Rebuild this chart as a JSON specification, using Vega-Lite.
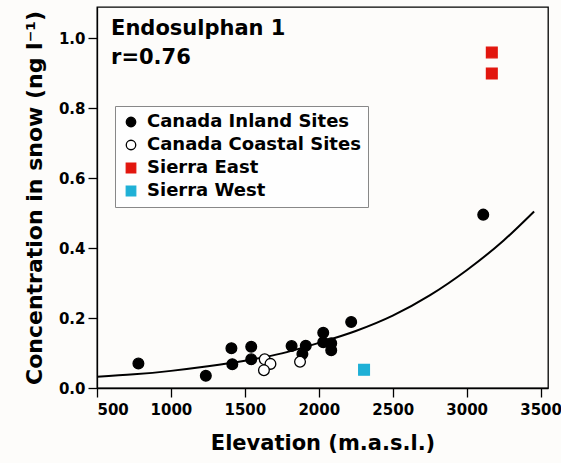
{
  "$schema": "https://vega.github.io/schema/vega-lite/v6.json",
  "width": 451,
  "height": 381,
  "autosize": {"type": "none"},
  "padding": {"left": 97, "top": 7, "right": 13, "bottom": 75},
  "background": "#fdfcfa",
  "config": {
    "view": {"stroke": "black", "strokeWidth": 1.3},
    "font": "DejaVu Sans",
    "axis": {
      "domainColor": "black", "tickColor": "black", "domainWidth": 1.3, "tickWidth": 1.3, "tickSize": 9,
      "labelFont": "DejaVu Sans", "labelFontWeight": "bold", "labelFontSize": 15, "labelColor": "black",
      "titleFont": "DejaVu Sans", "titleFontWeight": "bold", "titleFontSize": 21, "titleColor": "black",
      "grid": false
    },
    "legend": {
      "padding": 7,
      "strokeColor": "#888", "fillColor": "#fefefe",
      "labelFont": "DejaVu Sans", "labelFontWeight": "bold", "labelFontSize": 18, "labelColor": "black",
      "symbolSize": 90, "symbolStrokeWidth": 1.3, "rowPadding": 5, "labelOffset": 7, "labelLimit": 400
    }
  },
  "datasets": {
    "points": [
      {"series": "Canada Inland Sites", "elev": 780, "conc": 0.070},
      {"series": "Canada Inland Sites", "elev": 1236, "conc": 0.035},
      {"series": "Canada Inland Sites", "elev": 1409, "conc": 0.114},
      {"series": "Canada Inland Sites", "elev": 1415, "conc": 0.068},
      {"series": "Canada Inland Sites", "elev": 1543, "conc": 0.118},
      {"series": "Canada Inland Sites", "elev": 1543, "conc": 0.082},
      {"series": "Canada Inland Sites", "elev": 1816, "conc": 0.120},
      {"series": "Canada Inland Sites", "elev": 1889, "conc": 0.097},
      {"series": "Canada Inland Sites", "elev": 1912, "conc": 0.121},
      {"series": "Canada Inland Sites", "elev": 2030, "conc": 0.158},
      {"series": "Canada Inland Sites", "elev": 2030, "conc": 0.131},
      {"series": "Canada Inland Sites", "elev": 2084, "conc": 0.128},
      {"series": "Canada Inland Sites", "elev": 2084, "conc": 0.108},
      {"series": "Canada Inland Sites", "elev": 2219, "conc": 0.189},
      {"series": "Canada Inland Sites", "elev": 3112, "conc": 0.496},
      {"series": "Canada Coastal Sites", "elev": 1634, "conc": 0.082},
      {"series": "Canada Coastal Sites", "elev": 1673, "conc": 0.069},
      {"series": "Canada Coastal Sites", "elev": 1629, "conc": 0.051},
      {"series": "Canada Coastal Sites", "elev": 1873, "conc": 0.075},
      {"series": "Sierra East", "elev": 3170, "conc": 0.960},
      {"series": "Sierra East", "elev": 3170, "conc": 0.900},
      {"series": "Sierra West", "elev": 2306, "conc": 0.052}
    ],
    "curve": [
      {"elev": 500, "conc": 0.032},
      {"elev": 750, "conc": 0.039},
      {"elev": 1000, "conc": 0.049},
      {"elev": 1250, "conc": 0.062},
      {"elev": 1500, "conc": 0.078},
      {"elev": 1750, "conc": 0.099},
      {"elev": 2000, "conc": 0.129},
      {"elev": 2250, "conc": 0.163},
      {"elev": 2500, "conc": 0.207},
      {"elev": 2750, "conc": 0.265},
      {"elev": 3000, "conc": 0.337},
      {"elev": 3250, "conc": 0.422},
      {"elev": 3456, "conc": 0.505}
    ],
    "labels": [
      {"label": "Endosulphan 1", "elev": 595, "conc": 1.010},
      {"label": "r=0.76", "elev": 595, "conc": 0.928}
    ]
  },
  "layer": [
    {
      "data": {"name": "curve"},
      "mark": {"type": "line", "color": "black", "strokeWidth": 2, "interpolate": "monotone"},
      "encoding": {
        "x": {
          "field": "elev", "type": "quantitative",
          "scale": {"domain": [500, 3550], "nice": false, "zero": false},
          "axis": {"values": [500, 1000, 1500, 2000, 2500, 3000, 3500], "format": "d", "title": "Elevation (m.a.s.l.)", "titlePadding": 15, "labelPadding": 5}
        },
        "y": {
          "field": "conc", "type": "quantitative",
          "scale": {"domain": [0, 1.09], "nice": false},
          "axis": {
            "values": [0, 0.1, 0.2, 0.3, 0.4, 0.5, 0.6, 0.7, 0.8, 0.9, 1.0],
            "labelExpr": "round(datum.value*10) % 2 == 0 ? format(datum.value, '.1f') : ''",
            "title": "Concentration in snow (ng l⁻¹)", "titleFontSize": 22, "titlePadding": 12, "labelPadding": 3
          }
        }
      }
    },
    {
      "data": {"name": "points"},
      "mark": {"type": "point", "opacity": 1, "strokeWidth": 1.3, "size": 115},
      "encoding": {
        "x": {"field": "elev", "type": "quantitative"},
        "y": {"field": "conc", "type": "quantitative"},
        "shape": {"field": "series", "type": "nominal",
          "legend": {"orient": "none", "legendX": 18, "legendY": 99, "title": null},
          "scale": {"domain": ["Canada Inland Sites", "Canada Coastal Sites", "Sierra East", "Sierra West"], "range": ["circle", "circle", "square", "square"]}},
        "fill": {"field": "series", "type": "nominal",
          "legend": {"orient": "none", "legendX": 18, "legendY": 99, "title": null},
          "scale": {"domain": ["Canada Inland Sites", "Canada Coastal Sites", "Sierra East", "Sierra West"], "range": ["black", "white", "#e2160e", "#1fb0d6"]}},
        "stroke": {"field": "series", "type": "nominal",
          "legend": {"orient": "none", "legendX": 18, "legendY": 99, "title": null},
          "scale": {"domain": ["Canada Inland Sites", "Canada Coastal Sites", "Sierra East", "Sierra West"], "range": ["black", "black", "#e2160e", "#1fb0d6"]}}
      }
    },
    {
      "data": {"name": "labels"},
      "mark": {"type": "text", "align": "left", "baseline": "alphabetic", "font": "DejaVu Sans", "fontWeight": "bold", "fontSize": 21, "color": "black"},
      "encoding": {
        "x": {"field": "elev", "type": "quantitative"},
        "y": {"field": "conc", "type": "quantitative"},
        "text": {"field": "label"}
      }
    }
  ]
}
